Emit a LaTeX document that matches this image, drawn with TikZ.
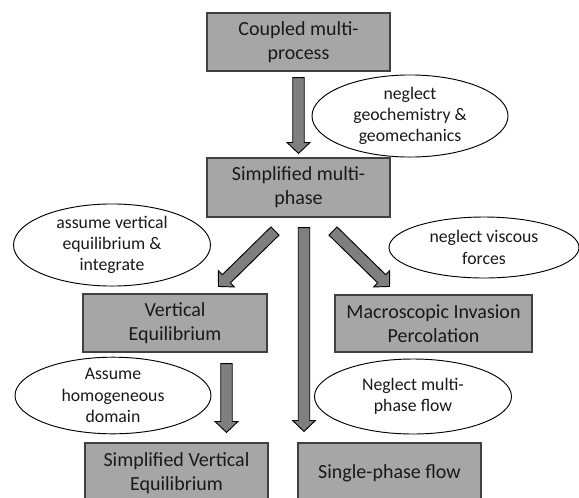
\documentclass[tikz,border=0pt]{standalone}
\usepackage{fontspec}
\setmainfont{Carlito}
\usetikzlibrary{calc,shapes.geometric}

\definecolor{boxgray}{HTML}{A6A6A6}
\definecolor{arrowgray}{HTML}{7F7F7F}
\definecolor{edgegray}{HTML}{404040}

\tikzset{
  box/.style={draw=edgegray, line width=0.8pt, fill=boxgray, minimum width=137.25pt,
    minimum height=43.5pt, inner sep=0pt, align=center, text=black!90,
    font=\fontsize{15}{18}\selectfont},
  note/.style={ellipse, draw=black, line width=0.7pt, fill=white, inner sep=0pt,
    align=center, text=black!90, font=\fontsize{13.3}{16}\selectfont},
  fatarrow/.style={draw=black, line width=0.7pt, fill=arrowgray, line join=miter}
}

% block arrow from #1 (tail) to #2 (tip)
\newcommand{\blockarrow}[2]{%
  \coordinate (hb) at ($(#2)!8.25pt!(#1)$);
  \draw[fatarrow] ($(#1)!4.3pt!90:(#2)$) -- ($(hb)!4.3pt!90:(#2)$)
    -- ($(hb)!8.6pt!90:(#2)$) -- (#2) -- ($(hb)!8.6pt!-90:(#2)$)
    -- ($(hb)!4.3pt!-90:(#2)$) -- ($(#1)!4.3pt!-90:(#2)$) -- cycle;
}

\begin{document}
\begin{tikzpicture}[x=0.75pt, y=-0.75pt]
    \useasboundingbox (0,0) rectangle (579,497);
    \clip (0,0) rectangle (579,497);

    % Models (boxes)
    \node[box] (cp) at (298.5,42) {Coupled multi-\\process};
    \node[box, minimum height=44.25pt] (smp) at (298.5,187.5) {Simplified multi-\\phase};
    \node[box, minimum width=138pt] (ve) at (175,323) {Vertical\\Equilibrium};
    \node[box, minimum width=147.75pt, minimum height=42.75pt] (mip) at (433.5,323.5) {Macroscopic Invasion\\Percolation};
    \node[box, minimum height=45pt] (sve) at (176.5,473) {Simplified Vertical\\Equilibrium};
    \node[box, minimum height=45pt] (spf) at (389.5,473) {Single-phase flow};

    % Assumptions (ellipses)
    \node[note, minimum width=147pt, minimum height=55.5pt] (geo) at (410,116) {neglect\\geochemistry \&\\geomechanics};
    \node[note, minimum width=147.75pt, minimum height=57pt] (vert) at (112,245) {assume vertical\\equilibrium \&\\integrate};
    \node[note, minimum width=142.5pt, minimum height=45.75pt] (visc) at (484,247.5) {neglect viscous\\forces};
    \node[note, minimum width=147pt, minimum height=56.25pt] (homo) at (113,395.5) {Assume\\homogeneous\\domain};
    \node[note, minimum width=147.75pt, minimum height=56.25pt] (mult) at (413,396.5) {Neglect multi-\\phase flow};

    % Arrow ends
    \coordinate (a1s) at ($(cp.south)+(0,6)$);
    \coordinate (a1t) at ($(smp.north)+(0,-4)$);
    \coordinate (a2s) at ($(smp.south)+(-23.5,13.5)$);
    \coordinate (a2t) at ($(ve.north)+(43.5,-7)$);
    \coordinate (a3s) at ($(smp.south)+(34.5,13.5)$);
    \coordinate (a3t) at ($(mip.north)+(-44,-8)$);
    \coordinate (a4s) at ($(smp.south)+(5.5,10)$);
    \coordinate (a4t) at ($(a4s |- spf.north)+(0,-11)$);
    \coordinate (a5s) at ($(ve.south)+(51.5,11)$);
    \coordinate (a5t) at ($(a5s |- sve.north)+(0,-10)$);

    % Block arrows
    \blockarrow{a1s}{a1t}
    \blockarrow{a2s}{a2t}
    \blockarrow{a3s}{a3t}
    \blockarrow{a4s}{a4t}
    \blockarrow{a5s}{a5t}
\end{tikzpicture}
\end{document}
